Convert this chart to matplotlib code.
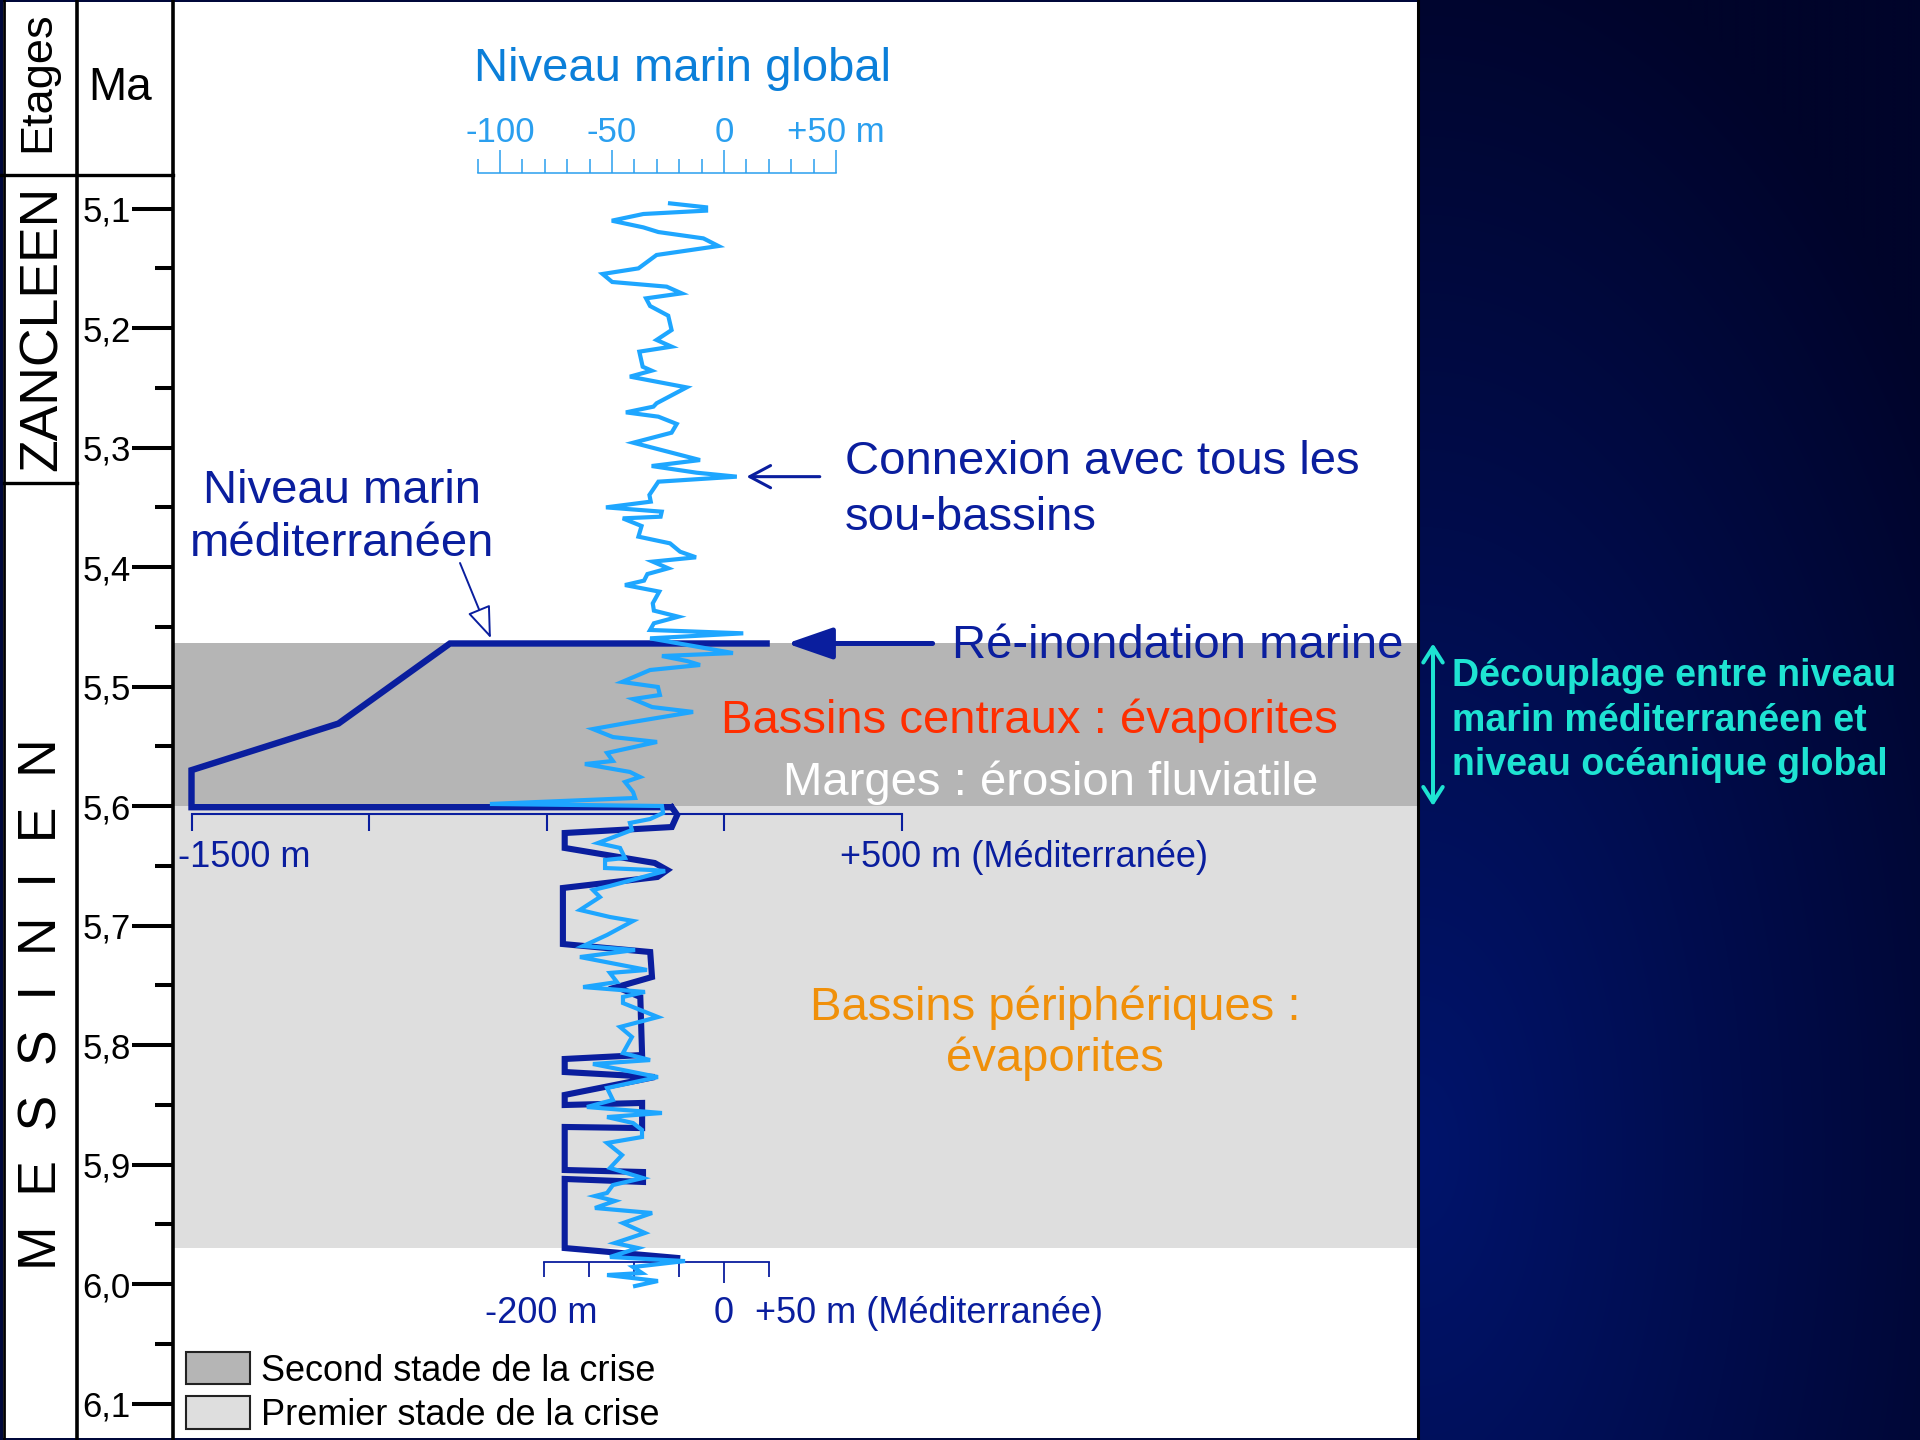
import numpy as np
import matplotlib
matplotlib.use("Agg")
import matplotlib.pyplot as plt
from matplotlib.patches import Patch, Rectangle
from matplotlib.ticker import FixedLocator, FixedFormatter, NullFormatter
from matplotlib.transforms import blended_transform_factory

plt.rcParams["font.family"] = ["Liberation Sans", "DejaVu Sans"]

# global sea level (m) against age (Ma)
global_age = [
    5.0957, 5.0990, 5.1018, 5.1046, 5.1102, 5.1158, 5.1197, 5.1250, 5.1314, 5.1389,
    5.1501, 5.1548, 5.1615, 5.1654, 5.1710, 5.1752, 5.1816, 5.1897, 5.2017, 5.2100,
    5.2156, 5.2198, 5.2324, 5.2357, 5.2407, 5.2497, 5.2630, 5.2658, 5.2706, 5.2742,
    5.2803, 5.2876, 5.2960, 5.3105, 5.3155, 5.3211, 5.3244, 5.3286, 5.3397, 5.3453,
    5.3501, 5.3537, 5.3579, 5.3593, 5.3657, 5.3746, 5.3802, 5.3872, 5.3919, 5.3955,
    5.4011, 5.4059, 5.4114, 5.4151, 5.4206, 5.4304, 5.4365, 5.4416, 5.4471, 5.4527,
    5.4555, 5.4597,
    5.4720, 5.4745, 5.4787, 5.4820, 5.4862, 5.4962, 5.5004, 5.5071, 5.5105, 5.5172,
    5.5213, 5.5305, 5.5356, 5.5423, 5.5464, 5.5556, 5.5623, 5.5649, 5.5715, 5.5757,
    5.5799, 5.5883, 5.5933, 5.5983, 5.6000, 5.6059, 5.6109, 5.6142, 5.6201, 5.6310,
    5.6351, 5.6435, 5.6452, 5.6519, 5.6536, 5.6544, 5.6594, 5.6669, 5.6703, 5.6762,
    5.6870, 5.6929, 5.6962, 5.7079, 5.7172, 5.7205, 5.7264, 5.7372, 5.7397, 5.7473,
    5.7515, 5.7556, 5.7598, 5.7649, 5.7766, 5.7849, 5.7933, 5.8067, 5.8126, 5.8159,
    5.8268, 5.8360, 5.8460, 5.8519, 5.8569, 5.8603, 5.8653, 5.8711, 5.8770, 5.8820,
    5.8921, 5.9029, 5.9113, 5.9172, 5.9238, 5.9264, 5.9305, 5.9364, 5.9406, 5.9490,
    5.9573, 5.9657, 5.9699, 5.9774, 5.9808, 5.9858, 5.9908, 5.9925, 5.9975, 6.0017,
]
global_level = [
    -24.1, -8.0, -8.0, -36.0, -50.1, -36.0, -29.3, -9.2, -2.5, -30.1,
    -38.2, -54.2, -49.9, -25.6, -18.9, -34.8, -33.0, -24.9, -23.4, -30.1,
    -23.4, -37.8, -36.3, -32.3, -42.0, -16.7, -30.1, -31.5, -43.8, -29.3,
    -21.1, -23.4, -40.5, -10.7, -32.3, -12.2, 5.7, -29.3, -33.3, -32.7,
    -52.7, -27.8, -28.3, -45.2, -36.8, -38.2, -24.1, -19.6, -12.5, -31.8,
    -24.9, -34.2, -35.7, -44.2, -28.9, -31.8, -31.3, -20.4, -31.3, -33.0,
    8.6, -33.0,
    4.0, -27.7, -16.5, -10.7, -33.0, -45.5, -29.5, -28.6, -40.6, -32.1,
    -13.8, -43.3, -58.5, -49.6, -29.9, -52.2, -49.6, -62.1, -42.0, -37.5,
    -44.2, -40.6, -39.7, -104.5, -27.7, -27.2, -33.0, -42.0, -41.1, -56.3,
    -46.4, -44.2, -53.1, -53.1, -31.7, -26.3, -36.2, -50.9, -58.5, -55.4,
    -64.3, -50.9, -40.6, -52.2, -62.9, -39.7, -64.3, -34.4, -50.9, -47.8,
    -62.9, -35.3, -45.1, -45.1, -29.5, -46.4, -41.1, -45.1, -33.0, -58.5,
    -29.5, -52.2, -49.6, -61.2, -27.7, -52.2, -40.6, -36.6, -36.6, -52.2,
    -45.5, -50.9, -36.2, -49.6, -52.2, -57.6, -48.7, -57.6, -32.1, -45.1,
    -35.3, -48.7, -38.4, -50.9, -17.4, -40.6, -36.6, -52.2, -29.5, -39.7,
]

# Mediterranean level, second stage (drawn on the -1500 / +500 m scale)
med_deep_age = [5.464, 5.464, 5.531, 5.570, 5.601, 5.601]
med_deep_level = [120, -772, -1086, -1500, -1500, -150]

# Mediterranean level, first stage (drawn on the -200 / +50 m scale)
med_shallow_age = [
    5.601, 5.6075, 5.6176, 5.6226, 5.6351, 5.6477, 5.6536, 5.6594, 5.6686, 5.7155,
    5.7222, 5.7431, 5.7515, 5.7598, 5.8084, 5.8117, 5.8226, 5.8268, 5.8418, 5.8502,
    5.8485, 5.8695, 5.8686, 5.9046, 5.9063, 5.9146, 5.9121, 5.9699, 5.9782,
]
med_shallow_level = [
    -58, -52, -58, -177, -177, -77, -63, -74, -179, -179,
    -82, -80, -119, -93, -91, -177, -177, -77, -177, -177,
    -91, -91, -177, -177, -90, -90, -177, -177, -52,
]

age_ticks = [5.1, 5.2, 5.3, 5.4, 5.5, 5.6, 5.7, 5.8, 5.9, 6.0, 6.1]
age_labels = ["5,1", "5,2", "5,3", "5,4", "5,5", "5,6", "5,7", "5,8", "5,9", "6,0", "6,1"]
age_minor = [5.15, 5.25, 5.35, 5.45, 5.55, 5.65, 5.75, 5.85, 5.95, 6.05]

second_stage = (5.464, 5.600)
first_stage = (5.600, 5.970)
zanclean_base = 5.33

global_ticks = [-100, -50, 0, 50]
global_tick_labels = ["-100", "-50", "0", "+50 m"]
global_minor = [-110, -90, -80, -70, -60, -40, -30, -20, -10, 10, 20, 30, 40]
deep_ticks = [-1500, -1000, -500, 0, 500]
shallow_major = [0]
shallow_minor = [-200, -150, -100, -50, 50]

NAVY = "#0A1E9E"
SKY = "#1EA6FF"
TITLE_BLUE = "#0B7FD9"
SCALE_BLUE = "#2A9FEF"
RED = "#FF2E00"
ORANGE = "#F0900A"
CYAN = "#1EE3D2"
DARK_GRAY = "#B5B5B5"
LIGHT_GRAY = "#DEDEDE"

# page geometry (pixels)
W, H = 1920, 1440
PANEL_L, PANEL_R = 173, 1418
X_ZERO = 724          # where 0 m falls on every level scale
PX_PER_MA = 1195
Y_52 = 328            # pixel row of 5,2 Ma

fig = plt.figure(figsize=(W / 100, H / 100), dpi=100)
fig.patch.set_facecolor("#00083A")

# background: blue gradient on the right, white sheet on the left
bg = fig.add_axes([0, 0, 1, 1], zorder=-5)
bg.set_axis_off()
yy, xx = np.mgrid[0:H:4, PANEL_R:W:4]
t = np.clip(1 - np.hypot((xx - PANEL_R) / 650, (yy - 1150) / 1250), 0, 1)
dark = np.array([0, 4, 42]) / 255
light = np.array([0, 20, 108]) / 255
bg.imshow(dark + (light - dark) * t[..., None], extent=(PANEL_R, W, H, 0),
          aspect="auto", interpolation="bilinear")
bg.add_patch(Rectangle((3, 2), PANEL_R - 3, H - 4, fc="white", ec="none"))
bg.plot([4, 4], [0, H], color="black", lw=2)
bg.plot([77, 77], [0, H], color="black", lw=2.6)
bg.plot([0, PANEL_L], [175, 175], color="black", lw=2.4)
bg.set_xlim(0, W)
bg.set_ylim(H, 0)

# main time column
ax = fig.add_axes([PANEL_L / W, 0, (PANEL_R - PANEL_L) / W, 1])
ax.patch.set_visible(False)
ax.set_ylim(5.2 + (H - Y_52) / PX_PER_MA, 5.2 - Y_52 / PX_PER_MA)
ax.set_xlim(0, 1)
ax.set_xticks([])
ax.spines["top"].set_visible(False)
ax.spines["bottom"].set_visible(False)
ax.spines["left"].set_linewidth(2.6)
ax.spines["right"].set_linewidth(2.2)
ax.yaxis.set_major_locator(FixedLocator(age_ticks))
ax.yaxis.set_major_formatter(FixedFormatter(age_labels))
ax.yaxis.set_minor_locator(FixedLocator(age_minor))
ax.tick_params(axis="y", which="major", length=29.5, width=2.9, pad=1, labelsize=25)
ax.tick_params(axis="y", which="minor", length=13, width=2.9)
ax.axhspan(*second_stage, fc=DARK_GRAY, lw=0, zorder=0)
ax.axhspan(*first_stage, fc=LIGHT_GRAY, lw=0, zorder=0)


def level_axes(px_per_m):
    a = ax.twiny()
    a.set_xlim((PANEL_L - X_ZERO) / px_per_m, (PANEL_R - X_ZERO) / px_per_m)
    for s in a.spines.values():
        s.set_visible(False)
    return a


# Mediterranean, second stage scale
axc = level_axes(0.355)
sp = axc.spines["bottom"]
sp.set_visible(True)
sp.set_position(("data", 5.6069))
sp.set_bounds(deep_ticks[0], deep_ticks[-1])
sp.set_color(NAVY)
sp.set_linewidth(1.5)
axc.xaxis.set_ticks_position("bottom")
axc.xaxis.set_major_locator(FixedLocator(deep_ticks))
axc.xaxis.set_major_formatter(NullFormatter())
axc.tick_params(axis="x", which="major", direction="out", length=12.5, width=1.5, color=NAVY)
axc.plot(med_deep_level, med_deep_age, color=NAVY, lw=4.6, solid_joinstyle="miter")
axc.annotate("-1500 m", xy=(deep_ticks[0], 5.6069), xytext=(-13, -53), textcoords="offset pixels",
             ha="left", va="baseline", fontsize=26, color=NAVY)
axc.annotate("+500 m (Méditerranée)", xy=(deep_ticks[-1], 5.6069), xytext=(-62, -53),
             textcoords="offset pixels", ha="left", va="baseline", fontsize=26, color=NAVY)

# Mediterranean, first stage scale
axf = level_axes(0.9)
sp = axf.spines["bottom"]
sp.set_visible(True)
sp.set_position(("data", 5.9816))
sp.set_bounds(shallow_minor[0], shallow_minor[-1])
sp.set_color(NAVY)
sp.set_linewidth(1.3)
axf.xaxis.set_ticks_position("bottom")
axf.xaxis.set_major_locator(FixedLocator(shallow_major))
axf.xaxis.set_minor_locator(FixedLocator(shallow_minor))
axf.xaxis.set_major_formatter(NullFormatter())
axf.xaxis.set_minor_formatter(NullFormatter())
axf.tick_params(axis="x", which="major", direction="out", length=15, width=1.3, color=NAVY)
axf.tick_params(axis="x", which="minor", direction="out", length=10.8, width=1.3, color=NAVY)
axf.plot(med_shallow_level, med_shallow_age, color=NAVY, lw=4.4, solid_joinstyle="miter")
axf.annotate("-200 m", xy=(-200, 5.9816), xytext=(-3, -61), textcoords="offset pixels",
             ha="center", va="baseline", fontsize=26, color=NAVY)
axf.annotate("0", xy=(0, 5.9816), xytext=(0, -61), textcoords="offset pixels",
             ha="center", va="baseline", fontsize=26, color=NAVY)
axf.annotate("+50 m (Méditerranée)", xy=(50, 5.9816), xytext=(-14, -61), textcoords="offset pixels",
             ha="left", va="baseline", fontsize=26, color=NAVY)

# global sea level scale
axg = level_axes(2.24)
sp = axg.spines["top"]
sp.set_visible(True)
sp.set_position(("data", 5.0703))
sp.set_bounds(global_minor[0], global_ticks[-1])
sp.set_color(SCALE_BLUE)
sp.set_linewidth(1.1)
axg.xaxis.set_ticks_position("top")
axg.xaxis.set_major_locator(FixedLocator(global_ticks))
axg.xaxis.set_major_formatter(FixedFormatter(global_tick_labels))
axg.xaxis.set_minor_locator(FixedLocator(global_minor))
axg.tick_params(axis="x", which="major", direction="out", length=16.5, width=1.1,
                color=SCALE_BLUE, labelcolor=SCALE_BLUE, labelsize=25, pad=0.5)
axg.tick_params(axis="x", which="minor", direction="out", length=10, width=1.1, color=SCALE_BLUE)
axg.plot(global_level, global_age, color=SKY, lw=3.0, solid_joinstyle="miter")

ga = np.array(global_age)
gl = np.array(global_level)
i_conn = int(np.argmax(np.where((ga > 5.30) & (ga < 5.35), gl, -999)))
axg.annotate("", xy=(gl[i_conn], ga[i_conn]), xytext=(83, 0), textcoords="offset pixels",
             arrowprops=dict(arrowstyle="->, head_length=15, head_width=8", mutation_scale=1,
                             color=NAVY, lw=2.2, shrinkA=0, shrinkB=7))
axc.annotate("", xy=(med_deep_level[0], med_deep_age[0]), xytext=(166, 0), textcoords="offset pixels",
             arrowprops=dict(arrowstyle="-|>, head_length=28, head_width=9.7", mutation_scale=1,
                             color=NAVY, lw=3.6, shrinkA=0, shrinkB=14.6))

# overlay for labels (pixel coordinates)
ov = fig.add_axes([0, 0, 1, 1], zorder=5)
ov.set_axis_off()
ov.set_xlim(0, W)
ov.set_ylim(H, 0)
ov.set_autoscale_on(False)
px_age = blended_transform_factory(ov.transData, ax.transData)

ov.text(38, 82, "Etages", rotation=90, ha="center", va="center", fontsize=32.5)
ov.text(120, 100, "Ma", ha="center", va="baseline", fontsize=33)
ov.text(43, 5.2, "ZANCLEEN", rotation=90, ha="center", va="center", fontsize=38.5,
        transform=px_age)
ov.text(43, 5.766, "M  E  S  S  I  N  I  E  N", rotation=90, ha="center", va="center",
        fontsize=38.5, transform=px_age)
ov.plot([4, 77], [zanclean_base, zanclean_base], color="black", lw=2.4, transform=px_age)

ov.text(683, 81, "Niveau marin global", ha="center", va="baseline", fontsize=34, color=TITLE_BLUE)
ov.text(342, 503, "Niveau marin", ha="center", va="baseline", fontsize=34, color=NAVY)
ov.text(342, 556, "méditerranéen", ha="center", va="baseline", fontsize=34, color=NAVY)
ov.text(845, 474, "Connexion avec tous les", ha="left", va="baseline", fontsize=34, color=NAVY)
ov.text(845, 530, "sou-bassins", ha="left", va="baseline", fontsize=34, color=NAVY)
ov.text(952, 658, "Ré-inondation marine", ha="left", va="baseline", fontsize=34, color=NAVY)
ov.text(1029, 733, "Bassins centraux : évaporites", ha="center", va="baseline", fontsize=34, color=RED)
ov.text(1051, 795, "Marges : érosion fluviatile", ha="center", va="baseline", fontsize=34, color="white")
ov.text(1055, 1020, "Bassins périphériques :", ha="center", va="baseline", fontsize=34, color=ORANGE)
ov.text(1055, 1071, "évaporites", ha="center", va="baseline", fontsize=34, color=ORANGE)

for yb, line in zip([686, 731, 775], ["Découplage entre niveau",
                                       "marin méditerranéen et",
                                       "niveau océanique global"]):
    ov.text(1452, yb, line, ha="left", va="baseline", fontsize=27, fontweight="bold", color=CYAN)

ov.annotate("", xy=(1433, second_stage[1]), xytext=(1433, second_stage[0]),
            xycoords=px_age, textcoords=px_age, annotation_clip=False,
            arrowprops=dict(arrowstyle="<->, head_length=11, head_width=7", mutation_scale=1,
                            color=CYAN, lw=2.9, shrinkA=0, shrinkB=0))
ov.annotate("", xy=(493, med_deep_age[0]), xycoords=px_age, xytext=(460, 563), textcoords="data",
            annotation_clip=False,
            arrowprops=dict(arrowstyle="-|>, head_length=20, head_width=7.5", mutation_scale=1,
                            fc="white", ec=NAVY, lw=1.4, shrinkA=0, shrinkB=4))

handles = [Patch(fc=DARK_GRAY, ec="#222222", lw=1.5), Patch(fc=LIGHT_GRAY, ec="#222222", lw=1.5)]
ov.legend(handles, ["Second stade de la crise", "Premier stade de la crise"],
          loc="upper left", bbox_to_anchor=(186, 1352), bbox_transform=ov.transData,
          frameon=False, fontsize=26, handlelength=1.77, handleheight=1.0,
          handletextpad=0.3, labelspacing=0.22, borderpad=0, borderaxespad=0)

fig.savefig("out.png", dpi=100)
